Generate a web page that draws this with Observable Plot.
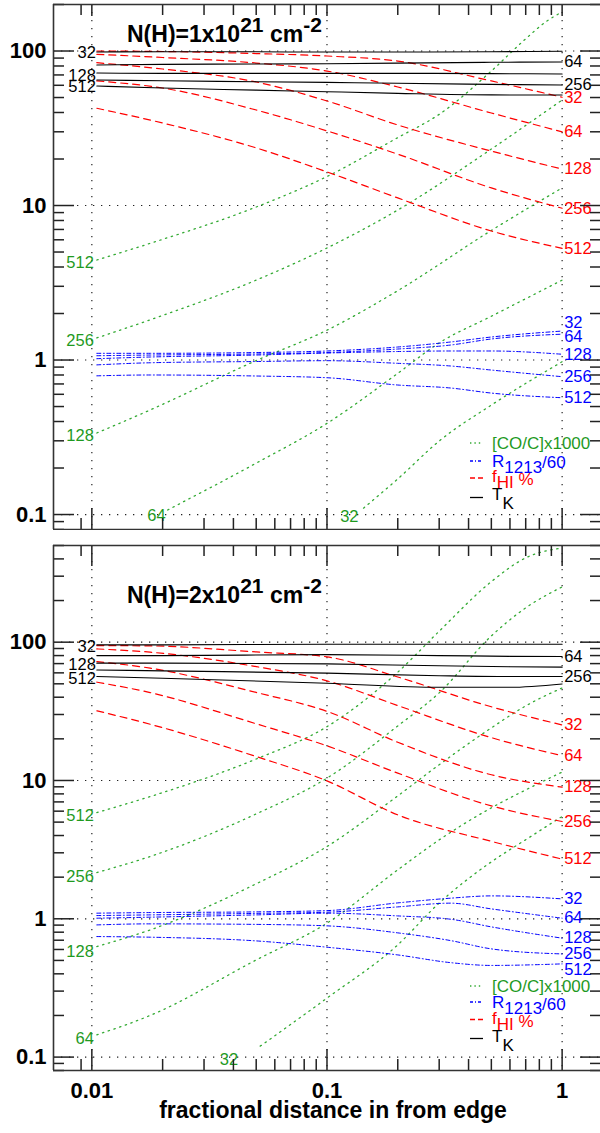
<!DOCTYPE html>
<html><head><meta charset="utf-8">
<script src="https://cdn.jsdelivr.net/npm/d3@7"></script>
<script src="https://cdn.jsdelivr.net/npm/@observablehq/plot@0.6"></script>
<style>
html,body{margin:0;padding:0;background:#fff;}
#chart{width:600px;}
#chart svg{display:block;}
</style></head><body><div id="chart"></div>
<script>
const FONT = "'Liberation Sans', Arial, Helvetica, sans-serif";
const densities = [32, 64, 128, 256, 512];

// ---------- Panel 1 : N(H)=1e21 ----------
const p1_tk_x = [0.0105, 0.02, 0.05, 0.1, 0.2, 0.5, 1];
const p1_tk = [
  [98.5, 99.0, 98.8, 98.5, 98.5, 99.0, 99.6],
  [81.2, 82.0, 82.4, 82.7, 83.5, 84.5, 84.9],
  [72.0, 71.7, 71.7, 71.7, 71.7, 71.4, 71.0],
  [64.9, 64.2, 63.3, 62.7, 61.8, 60.8, 60.2],
  [59.4, 57.6, 55.8, 54.5, 53.2, 52.0, 51.9]];
const p1_fhi_x = [0.0105, 0.02, 0.05, 0.1, 0.2, 0.5, 1];
const p1_fhi = [
  [100, 99.3, 96.3, 92.8, 86.1, 64.0, 50.2],
  [95.2, 90.8, 83.6, 74.2, 58.5, 39.7, 30.0],
  [84.0, 76.5, 63.0, 47.5, 33.2, 22.5, 17.2],
  [64.0, 57.6, 41.5, 30.4, 21.5, 13.0, 9.6],
  [42.6, 34.2, 23.6, 16.5, 11.2, 6.84, 5.28]];
const p1_r_x = [0.0105, 0.0177, 0.05, 0.1, 0.2, 0.335, 0.5, 1];
const p1_r = [
  [1.105, 1.105, 1.118, 1.144, 1.214, 1.308, 1.409, 1.54],
  [1.066, 1.077, 1.094, 1.118, 1.178, 1.25, 1.368, 1.47],
  [1.02, 1.046, 1.077, 1.11, 1.135, 1.144, 1.144, 1.09],
  [0.93, 0.96, 0.978, 0.99, 0.952, 0.915, 0.861, 0.78],
  [0.79, 0.80, 0.788, 0.768, 0.689, 0.659, 0.611, 0.57]];
const p1_co_x = [
  [0.143, 0.2, 0.3, 0.5, 1],
  [0.021, 0.05, 0.1, 0.2, 0.3, 0.5, 1],
  [0.0105, 0.0177, 0.05, 0.1, 0.2, 0.5, 1],
  [0.0105, 0.0177, 0.05, 0.1, 0.2, 0.5, 1],
  [0.0105, 0.0177, 0.05, 0.1, 0.2, 0.3, 0.5, 0.7, 0.85, 1]];
const p1_co = [
  [0.110, 0.17, 0.299, 0.511, 0.975],
  [0.107, 0.215, 0.389, 0.82, 1.29, 1.92, 3.29],
  [0.337, 0.475, 0.992, 1.56, 2.81, 6.9, 13.0],
  [1.39, 1.82, 3.29, 5.31, 9.35, 23.2, 48.2],
  [4.44, 5.69, 9.78, 15.4, 27.5, 38.9, 74.2, 120, 154, 179]];

// ---------- Panel 2 : N(H)=2e21 ----------
const p2_tk_x = [0.0105, 0.02, 0.1, 0.3, 0.6, 1];
const p2_tk = [
  [95.6, 95.6, 96.7, 96.7, 96.7, 96.7],
  [80.0, 80.0, 81.3, 80.0, 79.0, 78.7],
  [70.5, 70.5, 69.7, 67.5, 66.5, 66.0],
  [63.0, 62.0, 59.7, 57.2, 56.4, 56.4],
  [56.4, 54.9, 50.5, 47.2, 47.2, 49.9]];
const p2_fhi_x = [0.0105, 0.0177, 0.05, 0.1, 0.2, 0.5, 1];
const p2_fhi = [
  [94.5, 94.0, 85.0, 78.3, 56.0, 34.1, 25.2],
  [89.4, 84.7, 66.6, 52.5, 34.8, 20.4, 15.1],
  [72.4, 64.9, 43.3, 31.6, 18.9, 11.0, 8.95],
  [51.4, 43.2, 25.7, 17.8, 11.3, 6.55, 5.05],
  [31.9, 25.5, 14.9, 9.93, 5.64, 3.63, 2.70]];
const p2_r_x = [0.0105, 0.0177, 0.05, 0.1, 0.2, 0.335, 0.5, 1];
const p2_r = [
  [1.098, 1.109, 1.122, 1.146, 1.303, 1.409, 1.464, 1.393],
  [1.055, 1.067, 1.094, 1.116, 1.219, 1.297, 1.179, 1.010],
  [1.010, 1.027, 1.067, 1.098, 1.049, 0.993, 0.874, 0.724],
  [0.903, 0.919, 0.911, 0.889, 0.791, 0.696, 0.606, 0.557],
  [0.744, 0.736, 0.692, 0.623, 0.548, 0.482, 0.460, 0.472]];
const p2_co_x = [
  [0.052, 0.1, 0.2, 0.3, 0.5, 0.7, 1],
  [0.0105, 0.0177, 0.05, 0.1, 0.2, 0.3, 0.5, 0.7, 1],
  [0.0105, 0.0177, 0.05, 0.1, 0.2, 0.3, 0.5, 0.7, 1],
  [0.0105, 0.0177, 0.05, 0.1, 0.2, 0.3, 0.5, 0.7, 1],
  [0.0105, 0.0177, 0.05, 0.1, 0.2, 0.3, 0.5, 0.7, 1]];
const p2_co = [
  [0.12, 0.267, 0.648, 1.30, 2.58, 3.73, 5.5],
  [0.145, 0.2, 0.504, 0.93, 2.26, 3.72, 6.34, 8.55, 11.5],
  [0.63, 0.831, 1.79, 3.33, 7.74, 13.0, 24.0, 34.6, 46.7],
  [2.16, 2.82, 5.73, 10.4, 24.8, 43.0, 111, 177, 251],
  [5.86, 7.65, 14.3, 24.5, 60.7, 120, 274, 407, 480]];

// ---------- ticks & texts ----------
const xMajor = [0.01, 0.1, 1];
const xTickLabels = ["0.01", "0.1", "1"];
const yMajor = [0.1, 1, 10, 100];
const yTickLabels = ["0.1", "1", "10", "100"];
const xTitle = "fractional distance in from edge";
const titles = [["N(H)=1x10", "21", " cm", "-2"], ["N(H)=2x10", "21", " cm", "-2"]];
const legendLabels = [
  [["[CO/C]x1000", 0]],
  [["R", 0], ["1213", 6], ["/60", 1.5]],
  [["f", 0], ["HI", 6], [" %", 3]],
  [["T", 0], ["K", 9]]];

// ---------- styles ----------
const GREEN_LINE = "#33aa33", GREEN_TEXT = "#1f9a1f";
const STY = {
  co:  {stroke: GREEN_LINE, text: GREEN_TEXT, dash: "1.4,4.6", w: 1.3},
  r:   {stroke: "#0000ff", text: "#0000ff", dash: "4,2.5,1,2.5", w: 1},
  fhi: {stroke: "#ff0000", text: "#ff0000", dash: "7,5", w: 1.2},
  tk:  {stroke: "#000000", text: "#000000", dash: null, w: 1.1}
};
const legendOrder = ["co", "r", "fhi", "tk"];

function tidy(q, xs, vals) {
  return vals.flatMap((vs, i) => vs.map((v, j) => ({
    q, n: densities[i], x: Array.isArray(xs[0]) ? xs[i][j] : xs[j], y: v
  })));
}

const X_DOMAIN = [0.00687, 1.456];
const xMinor = [];
for (const d of [0.001, 0.01, 0.1]) for (let k = 2; k <= 9; k++) {
  const v = +(k * d).toPrecision(3);
  if (v > 0.0085 && v < X_DOMAIN[1]) xMinor.push(v);
}

function panel(o) {
  const fw = 600 - 53, fh = o.height - o.marginTop - o.marginBottom;
  const yMinor = [];
  for (let e = -2; e <= 3; e++) for (let k = 2; k <= 9; k++) {
    const v = +(k * 10 ** e).toPrecision(3);
    if (v >= o.yDomain[0] && v <= o.yDomain[1]) yMinor.push(v);
  }
  const rows = o.rows;
  const tickSty = {stroke: "#222", strokeWidth: 1.5};
  const gridSty = {stroke: "#222", strokeWidth: 1.2, strokeDasharray: "1.3,6.7"};
  const labelMarks = o.labels.map(s => {
    const ser = rows.filter(d => d.q === s.q && d.n === s.n);
    const p = s.at === "first" ? ser[0] : ser[ser.length - 1];
    return Plot.text([p], {
      x: "x", y: "y", text: d => String(d.n), fill: STY[s.q].text,
      textAnchor: s.at === "first" ? "end" : "start",
      dx: s.dx ?? (s.at === "first" ? -1 : 2), dy: s.dy ?? 0, fontSize: 16.5
    });
  });
  const marks = [
    Plot.ruleX(xMajor, {x: d => d, ...gridSty}),
    Plot.ruleY(yMajor, {y: d => d, ...gridSty}),
    ...["co", "r", "fhi", "tk"].map(q => Plot.line(rows.filter(d => d.q === q), {
      x: "x", y: "y", z: "n", stroke: STY[q].stroke, strokeWidth: STY[q].w,
      strokeDasharray: STY[q].dash, curve: "monotone-x", clip: true
    })),
    ...labelMarks,
    Plot.tickY(yMajor, {y: d => d, insetRight: fw - 21, ...tickSty}),
    Plot.tickY(yMinor, {y: d => d, insetRight: fw - 11, ...tickSty}),
    Plot.tickY(yMajor, {y: d => d, insetLeft: fw - 20, ...tickSty}),
    Plot.tickY(yMinor, {y: d => d, insetLeft: fw - 10, ...tickSty}),
    Plot.tickX(xMajor, {x: d => d, insetTop: fh - 21, ...tickSty}),
    Plot.tickX(xMinor, {x: d => d, insetTop: fh - 11, ...tickSty}),
    Plot.tickX(xMajor, {x: d => d, insetBottom: fh - o.topMajor, ...tickSty}),
    Plot.tickX(xMinor, {x: d => d, insetBottom: fh - 11, ...tickSty}),
    Plot.ruleX([X_DOMAIN[0]], {x: d => d, stroke: "#333", strokeWidth: 1.6}),
    Plot.ruleY(o.yDomain, {y: d => d, stroke: "#333", strokeWidth: 1.6}),
    Plot.axisY(yMajor, {anchor: "left", tickSize: 0, tickPadding: 7, fontSize: 22,
      fontWeight: "bold", label: null, tickFormat: d => yTickLabels[yMajor.indexOf(d)]})
  ];
  if (o.xLabels) {
    marks.push(Plot.axisX(xMajor, {anchor: "bottom", tickSize: 0, tickPadding: 12, fontSize: 22,
      fontWeight: "bold", label: null, tickFormat: d => xTickLabels[xMajor.indexOf(d)]}));
    marks.push(Plot.text([xTitle], {text: d => d, frameAnchor: "bottom", dy: 47, dx: 6,
      fontSize: 23, fontWeight: "bold", fill: "#000"}));
  }
  const svg = Plot.plot({
    width: 600, height: o.height, marginLeft: 53, marginRight: 0,
    marginTop: o.marginTop, marginBottom: o.marginBottom,
    x: {type: "log", domain: X_DOMAIN, axis: null},
    y: {type: "log", domain: o.yDomain, axis: null},
    style: {fontFamily: FONT, background: "#fff", color: "#000"},
    marks
  });
  const s = d3.select(svg);
  const t = s.append("text").attr("x", 127).attr("y", o.titleY).attr("text-anchor", "start")
    .attr("font-family", FONT).attr("font-size", 23).attr("font-weight", "bold").attr("fill", "#000");
  t.append("tspan").text(o.title[0]);
  t.append("tspan").attr("dy", -10).attr("font-size", 21).text(o.title[1]);
  t.append("tspan").attr("dy", 10).text(o.title[2]);
  t.append("tspan").attr("dy", -10).attr("font-size", 21).text(o.title[3]);
  const fb = o.height - o.marginBottom;
  legendOrder.forEach((q, i) => {
    const ly = fb + o.legendLineY[i];
    s.append("line").attr("x1", 470).attr("x2", 483).attr("y1", ly).attr("y2", ly)
      .attr("stroke", STY[q].stroke).attr("stroke-width", q === "co" ? 1.5 : 1.3)
      .attr("stroke-dasharray", q === "co" ? "1.4,3" : q === "r" ? "3,2,1,2" : q === "fhi" ? "5,3" : null);
    const tx = s.append("text").attr("x", 492).attr("y", fb + o.legendTextY[i]).attr("text-anchor", "start")
      .attr("font-family", FONT).attr("font-size", 17).attr("fill", STY[q].text);
    let prev = 0;
    legendLabels[i].forEach(([str, off]) => {
      tx.append("tspan").attr("dy", off - prev).text(str);
      prev = off;
    });
  });
  return svg;
}

const labels1 = [
  {q: "tk", n: 32, at: "first", dy: 1}, {q: "tk", n: 128, at: "first", dy: 3}, {q: "tk", n: 512, at: "first", dy: 1},
  {q: "tk", n: 64, at: "last"}, {q: "tk", n: 256, at: "last"},
  ...densities.map(n => ({q: "fhi", n, at: "last"})),
  {q: "r", n: 32, at: "last", dy: -8}, {q: "r", n: 64, at: "last", dy: 3},
  {q: "r", n: 128, at: "last"}, {q: "r", n: 256, at: "last"}, {q: "r", n: 512, at: "last"},
  {q: "co", n: 512, at: "first", dx: -3, dy: 3}, {q: "co", n: 256, at: "first", dx: -3, dy: 3},
  {q: "co", n: 128, at: "first", dx: -3, dy: 3}, {q: "co", n: 64, at: "first", dx: -2, dy: 6},
  {q: "co", n: 32, at: "first", dx: -5, dy: 9}];
const labels2 = [
  {q: "tk", n: 32, at: "first", dy: 2}, {q: "tk", n: 128, at: "first", dy: 2}, {q: "tk", n: 512, at: "first", dy: 2},
  {q: "tk", n: 64, at: "last"}, {q: "tk", n: 256, at: "last"},
  ...densities.map(n => ({q: "fhi", n, at: "last"})),
  {q: "r", n: 32, at: "last"}, {q: "r", n: 64, at: "last"}, {q: "r", n: 128, at: "last"},
  {q: "r", n: 256, at: "last"}, {q: "r", n: 512, at: "last", dy: 6},
  {q: "co", n: 512, at: "first", dx: -3, dy: 3}, {q: "co", n: 256, at: "first", dx: -3, dy: 4},
  {q: "co", n: 128, at: "first", dx: -3, dy: 5}, {q: "co", n: 64, at: "first", dx: -3, dy: 4},
  {q: "co", n: 32, at: "first", dx: -22, dy: 14}];

const rows1 = [...tidy("tk", p1_tk_x, p1_tk), ...tidy("fhi", p1_fhi_x, p1_fhi),
  ...tidy("r", p1_r_x, p1_r), ...tidy("co", p1_co_x, p1_co)];
const rows2 = [...tidy("tk", p2_tk_x, p2_tk), ...tidy("fhi", p2_fhi_x, p2_fhi),
  ...tidy("r", p2_r_x, p2_r), ...tidy("co", p2_co_x, p2_co)];

const chart = document.getElementById("chart");
chart.append(panel({rows: rows1, yDomain: [0.08, 200], height: 530, marginTop: 4, marginBottom: 1,
  topMajor: 12, labels: labels1, title: titles[0], titleY: 41.5, xLabels: false,
  legendLineY: [-86, -68, -51, -31.5], legendTextY: [-80, -62.5, -47.5, -29]}));
chart.append(panel({rows: rows2, yDomain: [0.08, 500], height: 603, marginTop: 15, marginBottom: 63,
  topMajor: 21, labels: labels2, title: titles[1], titleY: 73.3, xLabels: true,
  legendLineY: [-84, -68, -50.5, -31.5], legendTextY: [-78, -62, -46, -28]}));
</script>
</body></html>
